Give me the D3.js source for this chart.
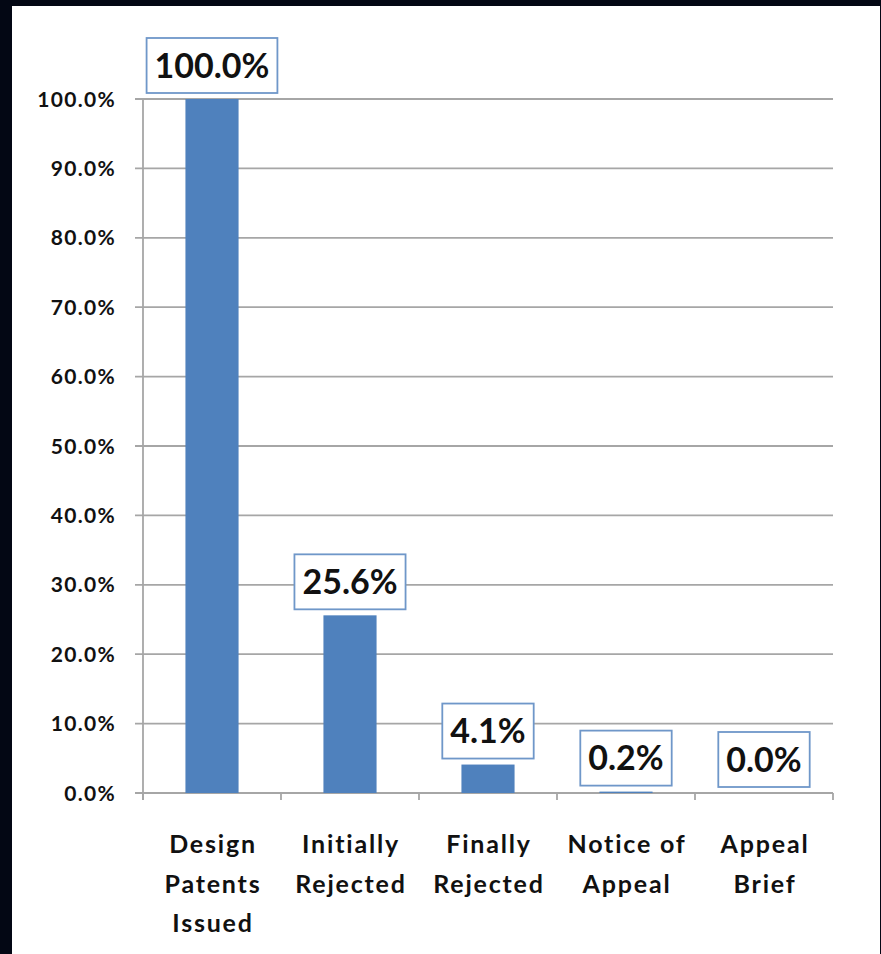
<!DOCTYPE html>
<html><head><meta charset="utf-8">
<script src="https://cdn.jsdelivr.net/npm/d3@7"></script>
<style>html,body{margin:0;padding:0;background:#030714;}svg{display:block;}</style>
</head><body>
<svg id="chart" width="881" height="954"></svg>
<script>
const categories = [["Design","Patents","Issued"],["Initially","Rejected"],["Finally","Rejected"],["Notice of","Appeal"],["Appeal","Brief"]];
const values = [100.0, 25.6, 4.1, 0.2, 0.0];
const yTicks = [0,10,20,30,40,50,60,70,80,90,100];

const svg = d3.select("#chart");
svg.append("rect").attr("x",12).attr("y",6).attr("width",868).attr("height",948).attr("fill","#fff");

const m = {left:143, right:833, top:99, bottom:793};
const x = d3.scaleBand().domain(d3.range(values.length)).range([m.left,m.right]).paddingInner(0.615).paddingOuter(0.3075);
const y = d3.scaleLinear().domain([0,100]).range([m.bottom,m.top]);
const grid = "#a6a6a6";
const font = "Lato, 'Open Sans', sans-serif";

// gridlines
svg.append("g").selectAll("line").data(yTicks).join("line")
  .attr("x1",m.left-8).attr("x2",m.right).attr("y1",d=>y(d)).attr("y2",d=>y(d))
  .attr("stroke",grid).attr("stroke-width",1.8);
// y axis line
svg.append("line").attr("x1",m.left).attr("x2",m.left).attr("y1",m.top).attr("y2",m.bottom+7).attr("stroke",grid).attr("stroke-width",1.8);
// bottom ticks
const band = (m.right-m.left)/values.length;
svg.append("g").selectAll("line").data(d3.range(values.length+1)).join("line")
  .attr("x1",i=>m.left+i*band).attr("x2",i=>m.left+i*band).attr("y1",m.bottom).attr("y2",m.bottom+7)
  .attr("stroke",grid).attr("stroke-width",1.8);
// y labels
svg.append("g").selectAll("text").data(yTicks).join("text")
  .attr("x",116).attr("y",d=>y(d)).attr("dy","0.36em").attr("text-anchor","end")
  .attr("font-family",font).attr("font-weight","bold").attr("font-size",21).attr("letter-spacing",1.3).attr("fill","#111")
  .text(d=>d.toFixed(1)+"%");
// bars
svg.append("g").selectAll("rect").data(values).join("rect")
  .attr("x",(d,i)=>x(i)).attr("width",x.bandwidth()).attr("y",d=>y(d)).attr("height",d=>y(0)-y(d))
  .attr("fill","#4f81bd");
// data labels
const lg = svg.append("g").selectAll("g").data(values).join("g")
  .attr("transform",(d,i)=>`translate(${x(i)+x.bandwidth()/2},${y(d)-6})`);
const lt = lg.append("text").attr("y",-27.5).attr("dy","0.36em").attr("text-anchor","middle")
  .attr("font-family",font).attr("font-weight","bold").attr("font-size",34).attr("fill","#111")
  .text(d=>d.toFixed(1)+"%");
lt.each(function(){
  const w = this.getComputedTextLength();
  d3.select(this.parentNode).insert("rect","text").attr("x",-w/2-8).attr("y",-55).attr("width",w+16).attr("height",55)
    .attr("fill","#fff").attr("stroke","#6f97c9").attr("stroke-width",1.8);
});
// category labels
svg.append("g").selectAll("text").data(categories).join("text")
  .attr("text-anchor","middle").attr("font-family",font).attr("font-weight","bold").attr("font-size",25).attr("fill","#111")
  .attr("letter-spacing",1.8)
  .attr("transform",(d,i)=>`translate(${x(i)+x.bandwidth()/2+1},853)`)
  .selectAll("tspan").data(d=>d).join("tspan").attr("x",0).attr("y",(d,j)=>j*39.5).text(d=>d);
</script>
</body></html>
